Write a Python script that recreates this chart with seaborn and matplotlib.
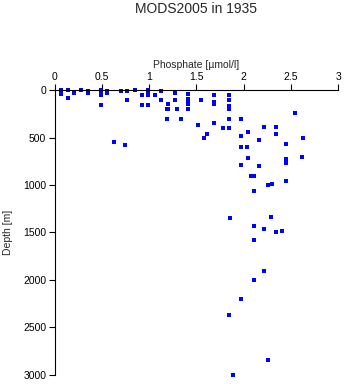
import matplotlib
matplotlib.use("Agg")
import matplotlib.pyplot as plt
import seaborn as sns
import pandas as pd

# Phosphate profile samples: concentration [µmol/l] and depth [m]
phosphate = [
    0.07, 0.07, 0.07, 0.07, 0.07,
    0.14, 0.14, 0.21, 0.28, 0.35, 0.35,
    0.49, 0.49, 0.49, 0.49, 0.49, 0.49,
    0.56, 0.56, 0.70, 0.77, 0.77, 0.85, 0.92, 0.93,
    0.99, 0.99, 0.99, 0.99, 0.99, 0.99,
    0.63, 0.745,
    1.066, 1.13, 1.13, 1.20, 1.19, 1.20, 1.19,
    1.27, 1.27, 1.30, 1.34,
    1.41, 1.41, 1.41, 1.41, 1.41,
    1.55, 1.52, 1.615, 1.58,
    1.69, 1.69, 1.69, 1.69,
    1.84, 1.84, 1.84, 1.84, 1.84, 1.785, 1.84,
    1.975, 1.975, 1.975,
    2.545, 2.21, 2.345, 2.05, 2.345, 2.165, 2.63, 2.45, 2.04,
    2.05, 2.615, 2.45, 2.45, 1.975, 2.165, 2.08, 2.11, 2.45,
    2.255, 2.30, 2.11,
    1.86, 2.285, 2.11, 2.21, 2.345, 2.41, 2.11,
    2.21, 2.11, 1.975, 1.84, 2.255, 1.89,
]
depth = [
    0, 10, 20, 30, 40,
    0, 85, 30, 0, 10, 30,
    0, 10, 20, 30, 50, 150,
    10, 25, 5, 10, 100, 0, 50, 150,
    0, 10, 20, 30, 50, 150,
    550, 580,
    53, 7, 102, 145, 198, 198, 300,
    28, 102, 198, 303,
    35, 95, 110, 148, 198,
    106, 370, 461, 500,
    53, 125, 145, 348,
    53, 102, 162, 200, 303, 401, 401,
    303, 486, 602,
    243, 390, 390, 437, 465, 525, 500, 570, 602,
    718, 708, 729, 768, 792, 800, 900, 900, 955,
    1003, 993, 1067,
    1352, 1341, 1433, 1468, 1500, 1489, 1584,
    1901, 1996, 2200, 2370, 2841, 2999,
]

x_ticks = [0, 0.5, 1, 1.5, 2, 2.5, 3]
x_tick_labels = ["0", "0.5", "1", "1.5", "2", "2.5", "3"]
y_ticks = [0, 500, 1000, 1500, 2000, 2500, 3000]

df = pd.DataFrame({"Phosphate": phosphate, "Depth": depth})

sns.set_style("white")
plt.rcParams["font.family"] = ["Liberation Sans", "DejaVu Sans"]

fig = plt.figure(figsize=(3.45, 3.84), dpi=100)
ax = fig.add_axes([54.5 / 345, 1 - 374.7 / 384, (338.3 - 54.5) / 345, (374.7 - 90.3) / 384])

sns.scatterplot(data=df, x="Phosphate", y="Depth", ax=ax, marker="s",
                color="#0000ff", s=5, linewidth=0, clip_on=False)

ax.set_xlim(0, 3)
ax.set_ylim(3000, 0)

ax.xaxis.tick_top()
ax.xaxis.set_label_position("top")
ax.set_xticks(x_ticks)
ax.set_xticklabels(x_tick_labels)
ax.set_yticks(y_ticks)
ax.tick_params(axis="x", direction="out", length=4, width=0.8, colors="black",
               labelsize=7.5, pad=2, top=True, bottom=False)
ax.tick_params(axis="y", direction="out", length=4, width=0.8, colors="black",
               labelsize=7.5, pad=2, left=True)

for side in ("right", "bottom"):
    ax.spines[side].set_visible(False)
for side in ("left", "top"):
    ax.spines[side].set_color("black")
    ax.spines[side].set_linewidth(0.8)

ax.set_xlabel("Phosphate [µmol/l]", fontsize=7.5, labelpad=3)
ax.set_ylabel("Depth [m]", fontsize=7.5)
ax.yaxis.set_label_coords(-0.145, 0.5)

fig.text((54.5 + 338.3) / 2 / 345, 1 - 9 / 384, "MODS2005 in 1935",
         ha="center", va="center", fontsize=10)

fig.savefig("out.png", dpi=100)
